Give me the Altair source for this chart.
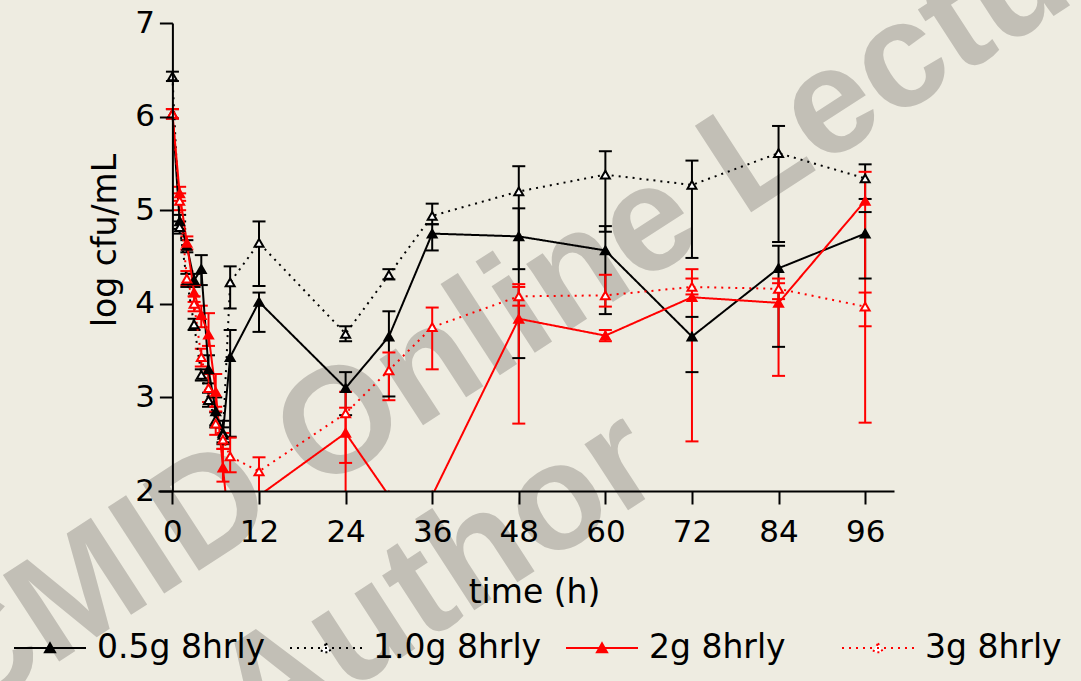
import altair as alt
import pandas as pd

# ---------------- data ----------------
series = ["0.5g 8hrly", "1.0g 8hrly", "2g 8hrly", "3g 8hrly"]
times = [0, 1, 2, 3, 4, 5, 6, 7, 8, 12, 24, 30, 36, 48, 60, 72, 84, 96]

mean_05 = [6.03, 4.88, 4.62, 4.25, 4.37, 3.30, 2.85, 2.62, 3.43, 4.02, 3.10, 3.65, 4.75, 4.72, 4.57, 3.65, 4.38, 4.75]
lo_05 = [5.98, 4.80, 4.55, 4.18, 4.20, 3.15, 2.70, 2.50, 2.58, 3.70, 2.81, 3.01, 4.57, 3.42, 3.89, 3.27, 3.54, 4.27]
hi_05 = [6.08, 4.95, 4.68, 4.32, 4.52, 3.45, 3.00, 2.75, 3.72, 4.12, 3.27, 3.92, 4.85, 5.02, 4.83, 3.86, 4.62, 4.98]

mean_10 = [6.43, 4.82, 4.25, 3.78, 3.24, 2.97, 2.76, 2.60, 4.23, 4.65, 3.68, 4.31, 4.94, 5.20, 5.38, 5.27, 5.61, 5.34]
lo_10 = [6.38, 4.75, 4.18, 3.72, 3.18, 2.90, 2.68, 2.52, 3.95, 4.19, 3.60, 4.26, 4.85, 4.37, 4.77, 4.49, 4.66, 5.12]
hi_10 = [6.48, 4.88, 4.32, 3.84, 3.30, 3.05, 2.84, 2.68, 4.40, 4.88, 3.76, 4.37, 5.07, 5.47, 5.63, 5.53, 5.90, 5.49]

mean_2 = [6.03, 5.18, 4.65, 4.12, 3.88, 3.67, 3.06, 2.25, 1.50, 1.95, 2.62, 1.95, 1.95, 3.84, 3.66, 4.07, 4.01, 5.10]
lo_2 = [5.98, 5.10, 4.58, 4.02, 3.75, 3.55, 2.90, 2.10, 1.30, 1.95, 1.50, 1.95, 1.95, 2.72, 3.60, 2.53, 3.23, 2.73]
hi_2 = [6.08, 5.25, 4.72, 4.20, 3.98, 3.90, 3.25, 2.45, 1.70, 1.95, 3.06, 1.95, 1.95, 4.21, 3.72, 4.37, 4.27, 5.41]

mean_3 = [6.03, 5.10, 4.27, 4.00, 3.43, 3.10, 2.72, 2.55, 2.37, 2.21, 2.83, 3.29, 3.75, 4.08, 4.09, 4.18, 4.16, 3.97]
lo_3 = [5.98, 5.00, 4.20, 3.92, 3.33, 2.95, 2.60, 2.45, 2.20, 1.90, 2.30, 2.97, 3.30, 3.98, 3.97, 4.10, 4.05, 3.76]
hi_3 = [6.08, 5.18, 4.35, 4.08, 3.52, 3.25, 2.85, 2.62, 2.57, 2.36, 2.89, 3.48, 3.96, 4.18, 4.31, 4.27, 4.22, 4.12]

x_ticks = [0, 12, 24, 36, 48, 60, 72, 84, 96]
y_ticks = [2, 3, 4, 5, 6, 7]
watermark_lines = ["CMID Online Lecture", "Author"]

# ---------------- table ----------------
rows = []
for name, m, lo, hi in zip(series, [mean_05, mean_10, mean_2, mean_3],
                           [lo_05, lo_10, lo_2, lo_3], [hi_05, hi_10, hi_2, hi_3]):
    for t, a, b, c in zip(times, m, lo, hi):
        rows.append({"series": name, "time": t, "mean": a, "lo": b, "hi": c})
df = pd.DataFrame(rows)

FONT = "DejaVu Sans"
BG = "#EEECE1"

x_scale = alt.Scale(domain=[-2, 100], nice=False, zero=False)
y_scale = alt.Scale(domain=[2, 7], nice=False, zero=False)

x_axis = alt.Axis(values=x_ticks, title="time (h)", grid=False, zindex=1,
                  domainColor="black", domainWidth=2, tickColor="black", tickWidth=2, tickSize=13,
                  labelFont=FONT, labelFontSize=31, labelColor="black", labelPadding=13,
                  labelFlush=False, labelOverlap=False,
                  titleFont=FONT, titleFontSize=33, titleFontWeight="normal", titleColor="black",
                  titleX=376, titleY=111, titleBaseline="alphabetic", titleAlign="center")
y_axis = alt.Axis(values=y_ticks, title="log cfu/mL", grid=False, offset=-14.4, zindex=1,
                  domainColor="black", domainWidth=2, tickColor="black", tickWidth=2, tickSize=13,
                  labelFont=FONT, labelFontSize=31, labelColor="black", labelPadding=5,
                  labelOverlap=False,
                  titleFont=FONT, titleFontSize=33, titleFontWeight="normal", titleColor="black",
                  titleAngle=270, titleX=-57, titleY=217, titleBaseline="alphabetic", titleAlign="center")

X = alt.X("time:Q", scale=x_scale, axis=x_axis)

col_scale = alt.Scale(domain=series, range=["#000000", "#000000", "#FF0000", "#FF0000"])
fill_scale = alt.Scale(domain=series, range=["#000000", "#FFFFFF", "#FF0000", "#FFFFFF"])
dash_scale = alt.Scale(domain=series, range=[[1, 0], [2, 5], [1, 0], [2, 5]])

SYMBOL = "M-1,0L1,0M0,-0.13L0.14,0.12L-0.14,0.12Z"
leg = alt.Legend(title=None, orient="none", legendX=-145, legendY=588,
                 direction="horizontal", columns=4, gridAlign="all", columnPadding=20,
                 symbolType=SYMBOL, symbolSize=5184, symbolStrokeWidth=2,
                 symbolFillColor="#FFFFFF",
                 labelFont=FONT, labelFontSize=33, labelColor="black", labelOffset=10,
                 labelLimit=500)

COLOR = alt.Color("series:N", scale=col_scale, legend=leg)

base = alt.Chart(df)

bars = base.mark_rule(strokeWidth=2, clip=True).encode(
    x=X,
    y=alt.Y("lo:Q", scale=y_scale, axis=y_axis),
    y2="hi:Q",
    color=COLOR,
)
cap_lo = base.mark_rule(strokeWidth=2, clip=True, xOffset=-6.5, x2Offset=6.5).encode(
    x=X,
    x2="time:Q",
    y=alt.Y("lo:Q", scale=y_scale, axis=y_axis),
    color=COLOR,
)
cap_hi = base.mark_rule(strokeWidth=2, clip=True, xOffset=-6.5, x2Offset=6.5).encode(
    x=X,
    x2="time:Q",
    y=alt.Y("hi:Q", scale=y_scale, axis=y_axis),
    color=COLOR,
)
lines = base.mark_line(strokeWidth=2, clip=True).encode(
    x=X,
    y=alt.Y("mean:Q", scale=y_scale, axis=y_axis),
    color=COLOR,
    strokeDash=alt.StrokeDash("series:N", scale=dash_scale, legend=leg),
)
points = base.mark_point(shape="triangle-up", size=80, filled=False, strokeWidth=2,
                         opacity=1, clip=True).encode(
    x=X,
    y=alt.Y("mean:Q", scale=y_scale, axis=y_axis),
    color=COLOR,
    fill=alt.Fill("series:N", scale=fill_scale, legend=leg),
)

wm_df = pd.DataFrame({"txt": watermark_lines, "px": [-198, 98], "py": [703, 729]})
watermark = alt.Chart(wm_df).mark_text(
    font="Liberation Sans", fontSize=150, fontWeight="bold", angle=327,
    align="left", baseline="alphabetic", color="#C2BFB6"
).encode(
    text="txt:N",
    x=alt.X("px:Q", scale=None),
    y=alt.Y("py:Q", scale=None),
)

chart = alt.layer(watermark, bars, cap_lo, cap_hi, lines, points).properties(
    width=736, height=468,
    padding={"left": 158, "top": 23, "right": 187, "bottom": 190},
    autosize=alt.AutoSizeParams(type="none"),
    background=BG,
).configure_view(stroke=None)

chart.save("out.html", embed_options={"renderer": "svg", "actions": False})
